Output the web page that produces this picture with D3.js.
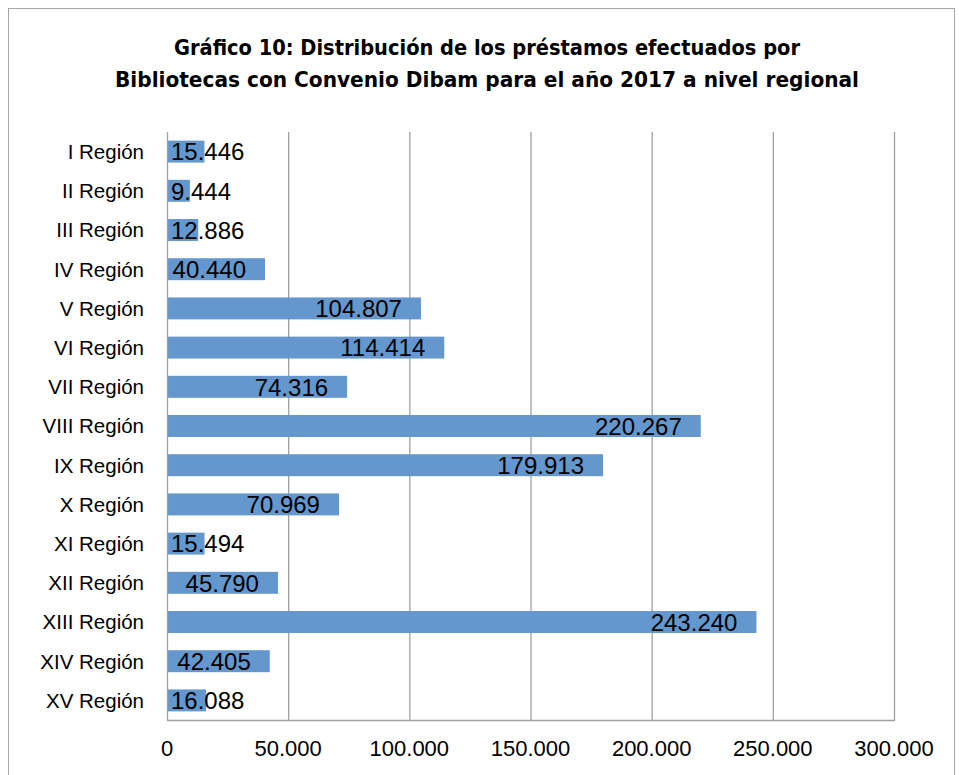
<!DOCTYPE html>
<html><head><meta charset="utf-8">
<script src="https://cdn.jsdelivr.net/npm/d3@7"></script>
<style>
html,body{margin:0;padding:0;background:#fff;}
svg{display:block;}
</style></head>
<body>
<script>
const categories = ["I Región","II Región","III Región","IV Región","V Región","VI Región","VII Región","VIII Región","IX Región","X Región","XI Región","XII Región","XIII Región","XIV Región","XV Región"];
const values = [15446,9444,12886,40440,104807,114414,74316,220267,179913,70969,15494,45790,243240,42405,16088];
const valueLabels = ["15.446","9.444","12.886","40.440","104.807","114.414","74.316","220.267","179.913","70.969","15.494","45.790","243.240","42.405","16.088"];
const tickValues = [0,50000,100000,150000,200000,250000,300000];
const tickLabels = ["0","50.000","100.000","150.000","200.000","250.000","300.000"];
const titleLines = ["Gráfico 10: Distribución de los préstamos efectuados por","Bibliotecas con Convenio Dibam para el año 2017 a nivel regional"];

const W = 959, H = 775;
const svg = d3.select("body").append("svg").attr("width", W).attr("height", H);
const font = "'Liberation Sans', Arial, sans-serif";

svg.append("rect").attr("x",8.5).attr("y",8.5).attr("width",946).attr("height",790)
  .attr("fill","#fff").attr("stroke","#a6a6a6").attr("stroke-width",1);

const tW = [626, 744];
titleLines.forEach((t,i)=>{
  svg.append("text").attr("x",487).attr("y",55+i*32).attr("text-anchor","middle")
    .attr("font-family","'Liberation Sans Narrow','DejaVu Sans Condensed',sans-serif")
    .attr("font-weight","bold").attr("font-size",21).attr("fill","#000")
    .attr("textLength",tW[i]).attr("lengthAdjust","spacingAndGlyphs").text(t);
});

const x = d3.scaleLinear().domain([0,300000]).range([167,894]);
const y = d3.scaleBand().domain(categories).range([132,720]).paddingInner(0.44).paddingOuter(0.22);

// gridlines
svg.append("g").selectAll("line").data(tickValues.slice(1)).join("line")
  .attr("x1",d=>x(d)+0.5).attr("x2",d=>x(d)+0.5).attr("y1",132).attr("y2",720)
  .attr("stroke","#a0a0a0").attr("stroke-width",1.3);

// bars
svg.append("g").selectAll("rect").data(values).join("rect")
  .attr("x",x(0)).attr("y",(d,i)=>y(categories[i]))
  .attr("width",d=>x(d)-x(0)).attr("height",y.bandwidth())
  .attr("fill","#6397cd");

// axes lines
svg.append("line").attr("x1",x(0)+0.5).attr("x2",x(0)+0.5).attr("y1",132).attr("y2",720).attr("stroke","#a0a0a0").attr("stroke-width",1.3);
svg.append("line").attr("x1",x(0)).attr("x2",x(300000)+1).attr("y1",720.5).attr("y2",720.5).attr("stroke","#a0a0a0").attr("stroke-width",1.3);

// category labels
svg.append("g").selectAll("text").data(categories).join("text")
  .attr("x",144).attr("y",d=>y(d)+y.bandwidth()/2).attr("dy","0.36em")
  .attr("text-anchor","end").attr("font-family",font).attr("font-size",20.5).attr("fill","#000").text(d=>d);

// value labels
const vl = svg.append("g").selectAll("text").data(values).join("text")
  .attr("y",(d,i)=>y(categories[i])+y.bandwidth()/2).attr("dy","0.37em")
  .attr("text-anchor","end").attr("font-family",font).attr("font-size",24).attr("fill","#000")
  .text((d,i)=>valueLabels[i]);
vl.each(function(d){
  const w = this.getComputedTextLength();
  d3.select(this).attr("x", Math.max(x(d)-19, x(0)+4+w));
});

// tick labels
svg.append("g").selectAll("text").data(tickValues).join("text")
  .attr("x",(d,i)=>x(d)).attr("y",756).attr("text-anchor","middle")
  .attr("font-family",font).attr("font-size",22).attr("fill","#000")
  .text((d,i)=>tickLabels[i]);
</script>
</body></html>
